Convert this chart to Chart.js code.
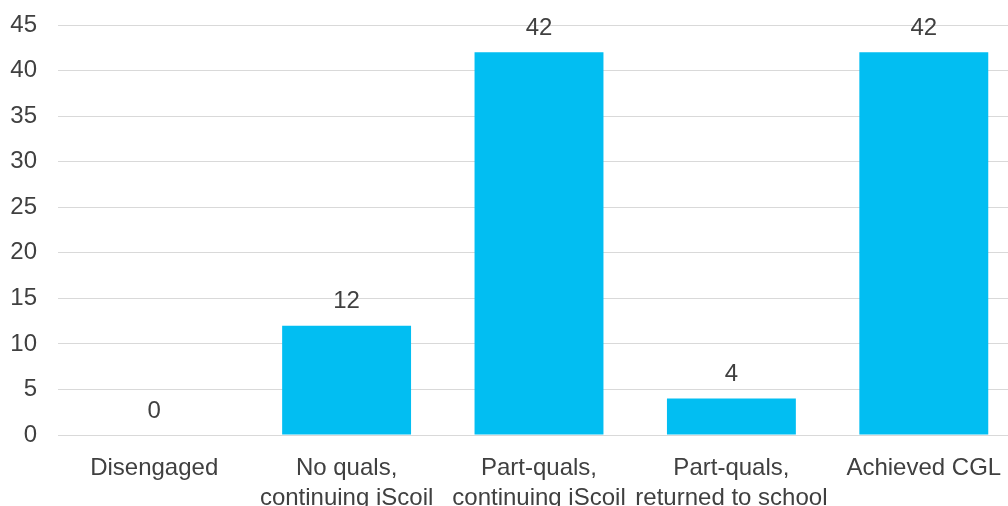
<!DOCTYPE html>
<html>
<head>
<meta charset="utf-8">
<script src="https://cdn.jsdelivr.net/npm/chart.js@4/dist/chart.umd.min.js"></script>
<style>
  html, body { margin: 0; padding: 0; background: #ffffff; overflow: hidden; }
  #clip { width: 1008px; height: 506px; overflow: hidden; position: relative; }
  #wrap { width: 1020px; height: 506px; position: relative; }
</style>
</head>
<body>
<div id="clip"><div id="wrap"><canvas id="chart"></canvas></div></div>
<script>
// Learner outcomes by category
const categories = [
  'Disengaged',
  ['No quals,', 'continuing iScoil'],
  ['Part-quals,', 'continuing iScoil'],
  ['Part-quals,', 'returned to school'],
  'Achieved CGL'
];
const counts = [0, 12, 42, 4, 42];
const yTicks = [0, 5, 10, 15, 20, 25, 30, 35, 40, 45];

const FONT = { family: '"Liberation Sans", Arial, sans-serif', size: 24 };
const TEXT = '#404040';

// Prints each bar's value above it
const valueLabels = {
  id: 'valueLabels',
  afterDatasetsDraw(chart) {
    const ctx = chart.ctx;
    const meta = chart.getDatasetMeta(0);
    ctx.save();
    ctx.font = FONT.size + 'px ' + FONT.family;
    ctx.fillStyle = TEXT;
    ctx.textAlign = 'center';
    ctx.textBaseline = 'middle';
    meta.data.forEach((bar, i) => {
      ctx.fillText(String(counts[i]), bar.x, bar.y - 24);
    });
    ctx.restore();
  }
};

new Chart(document.getElementById('chart'), {
  type: 'bar',
  data: {
    labels: categories,
    datasets: [{
      data: counts,
      backgroundColor: '#02BEF2',
      borderWidth: 0,
      categoryPercentage: 1,
      barPercentage: 0.67
    }]
  },
  options: {
    responsive: true,
    maintainAspectRatio: false,
    animation: false,
    layout: { padding: { top: 25, right: 0, left: 0, bottom: 0 } },
    plugins: { legend: { display: false }, tooltip: { enabled: false } },
    scales: {
      x: {
        grid: { display: false, drawTicks: false },
        border: { display: true, color: '#d9d9d9', width: 1 },
        ticks: {
          color: TEXT,
          font: { ...FONT, lineHeight: 1.22 },
          padding: 19,
          maxRotation: 0,
          autoSkip: false
        },
        afterFit(scale) {
          scale.height = 71;
          scale.paddingLeft = 0;
          scale.paddingRight = 0;
        }
      },
      y: {
        min: 0,
        max: 45,
        afterBuildTicks(scale) { scale.ticks = yTicks.map(v => ({ value: v })); },
        grid: { color: '#d9d9d9', lineWidth: 1, drawTicks: false },
        border: { display: false },
        ticks: {
          color: TEXT,
          font: FONT,
          padding: 21
        },
        afterFit(scale) {
          scale.width = 58;
          scale.paddingTop = 0;
          scale.paddingBottom = 0;
        }
      }
    }
  },
  plugins: [valueLabels]
});
</script>
</body>
</html>
